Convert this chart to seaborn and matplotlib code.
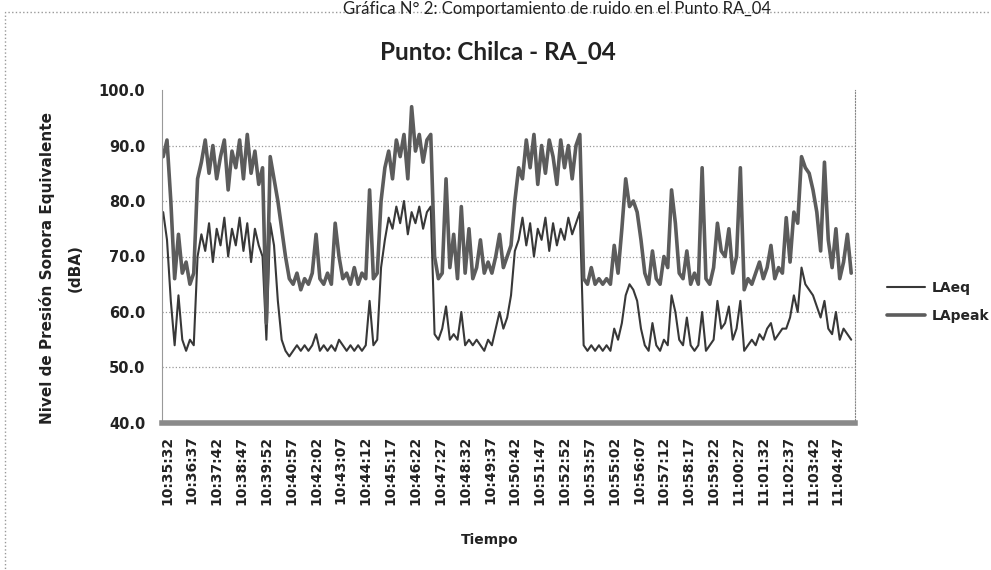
import numpy as np
import pandas as pd
import seaborn as sns
import matplotlib
matplotlib.use("Agg")
import matplotlib.pyplot as plt
from matplotlib.patches import Rectangle
from matplotlib.ticker import FormatStrFormatter

# seconds after 10:35:32, one reading every 10 s
tiempo_s = np.arange(-10, 1800, 10)

la_peak = [88,
    91, 80, 66, 74, 67, 69, 65, 67, 84, 87,
    91, 85, 90, 84, 88, 91, 82, 89, 86, 91,
    84, 92, 85, 89, 83, 86, 58, 88, 84, 80,
    75, 70, 66, 65, 67, 64, 66, 65, 67, 74,
    66, 65, 67, 65, 76, 70, 66, 67, 65, 68,
    65, 67, 66, 82, 66, 67, 80, 86, 89, 84,
    91, 88, 92, 84, 97, 89, 92, 87, 91, 92,
    70, 66, 67, 84, 68, 74, 66, 79, 67, 75,
    66, 68, 73, 67, 69, 67, 70, 74, 68, 70,
    72, 80, 86, 84, 91, 86, 92, 83, 90, 85,
    91, 88, 83, 91, 86, 90, 84, 90, 92, 66,
    65, 68, 65, 66, 65, 66, 65, 72, 67, 75,
    84, 79, 80, 78, 73, 67, 65, 71, 66, 65,
    70, 68, 82, 76, 67, 66, 71, 65, 67, 65,
    86, 66, 65, 68, 76, 71, 70, 75, 67, 70,
    86, 64, 66, 65, 67, 69, 66, 68, 72, 66,
    68, 67, 77, 69, 78, 76, 88, 86, 85, 82,
    78, 71, 87, 73, 68, 75, 66, 69, 74, 67]

la_eq = [78,
    73, 62, 54, 63, 55, 53, 55, 54, 70, 74,
    71, 76, 69, 75, 72, 77, 70, 75, 72, 77,
    71, 76, 69, 75, 72, 70, 55, 76, 72, 62,
    55, 53, 52, 53, 54, 53, 54, 53, 54, 56,
    53, 54, 53, 54, 53, 55, 54, 53, 54, 53,
    54, 53, 54, 62, 54, 55, 68, 73, 77, 75,
    79, 76, 80, 74, 78, 76, 79, 75, 78, 79,
    56, 55, 57, 61, 55, 56, 55, 60, 54, 55,
    54, 55, 54, 53, 55, 54, 57, 60, 57, 59,
    63, 71, 73, 77, 72, 76, 70, 75, 73, 77,
    71, 76, 72, 75, 73, 77, 74, 76, 78, 54,
    53, 54, 53, 54, 53, 54, 53, 57, 55, 58,
    63, 65, 64, 62, 57, 54, 53, 58, 54, 53,
    55, 54, 63, 60, 55, 54, 59, 54, 53, 54,
    60, 53, 54, 55, 62, 57, 58, 61, 55, 57,
    62, 53, 54, 55, 54, 56, 55, 57, 58, 55,
    56, 57, 57, 59, 63, 60, 68, 65, 64, 63,
    61, 59, 62, 57, 56, 60, 55, 57, 56, 55]

etiquetas_x = ["10:35:32", "10:36:37", "10:37:42", "10:38:47", "10:39:52",
               "10:40:57", "10:42:02", "10:43:07", "10:44:12", "10:45:17",
               "10:46:22", "10:47:27", "10:48:32", "10:49:37", "10:50:42",
               "10:51:47", "10:52:52", "10:53:57", "10:55:02", "10:56:07",
               "10:57:12", "10:58:17", "10:59:22", "11:00:27", "11:01:32",
               "11:02:37", "11:03:42", "11:04:47"]
ticks_y = [40, 50, 60, 70, 80, 90, 100]

df = pd.DataFrame({"t": tiempo_s, "LAeq": la_eq, "LApeak": la_peak})

sns.set_style("white")
plt.rcParams["font.family"] = ["DejaVu Sans"]

fig = plt.figure(figsize=(9.91, 5.70), dpi=100)
ax = fig.add_axes([0.1635, 0.258, 0.6993, 0.584])

sns.lineplot(x="t", y="LAeq", data=df, ax=ax, color="#383838", lw=1.5, label="LAeq")
sns.lineplot(x="t", y="LApeak", data=df, ax=ax, color="#5c5c5c", lw=2.6, label="LApeak")

ax.set_xlim(-13, 1800)
ax.set_ylim(40, 100)
ax.set_xticks(np.arange(len(etiquetas_x)) * 65)
ax.set_xticklabels(etiquetas_x, rotation=90, fontsize=10, fontweight="bold", color="#222")
ax.set_yticks(ticks_y)
ax.yaxis.set_major_formatter(FormatStrFormatter("%.1f"))
for lab in ax.get_yticklabels():
    lab.set_fontweight("bold")
    lab.set_fontsize(10.5)
    lab.set_color("#222")
ax.tick_params(axis="x", length=0, pad=9)
ax.tick_params(axis="y", length=4, width=0.8, color="#999", pad=8)
ax.set_xlabel("")
ax.set_ylabel("")

ax.grid(axis="y", linestyle=":", color="#999", lw=0.9)
ax.get_ygridlines()[-1].set_visible(False)
ax.spines["top"].set_visible(False)
ax.spines["left"].set_color("#999")
ax.spines["left"].set_linewidth(0.8)
ax.spines["right"].set_linestyle(":")
ax.spines["right"].set_color("#888")
ax.spines["bottom"].set_color("#8a8a8a")
ax.spines["bottom"].set_linewidth(4)

leg = ax.legend(loc="center left", bbox_to_anchor=(887 / 991, 1 - 302 / 570),
                bbox_transform=fig.transFigure, frameon=False, borderpad=0,
                borderaxespad=0, handlelength=2.7, handletextpad=0.5, labelspacing=1.0,
                prop={"weight": "bold", "size": 10})

fig.text(47 / 991, 1 - 268 / 570, "Nivel de Presión Sonora Equivalente",
         rotation=90, ha="center", va="center", fontsize=11, fontweight="bold", color="#222")
fig.text(75 / 991, 1 - 268 / 570, "(dBA)", rotation=90, ha="center", va="center",
         fontsize=11, fontweight="bold", color="#222")
fig.text(490 / 991, 1 - 540 / 570, "Tiempo", ha="center", va="center",
         fontsize=10, fontweight="bold", color="#222")
fig.text(498 / 991, 1 - 52 / 570, "Punto: Chilca - RA_04", ha="center", va="center",
         fontsize=17.5, fontweight="bold", family=["Lato", "DejaVu Sans"], color="#222")
fig.text(557 / 991, 1 - 1 / 570, "Gráfica N° 2: Comportamiento de ruido en el Punto RA_04",
         ha="center", va="top", fontsize=12, family=["Lato", "DejaVu Sans"], color="#222")

fig.add_artist(Rectangle((5 / 991, -0.1), 1.2, 1.1 - 12 / 570, transform=fig.transFigure,
                         fill=False, ls=":", ec="#999", lw=1))

fig.savefig("out.png", dpi=100)
